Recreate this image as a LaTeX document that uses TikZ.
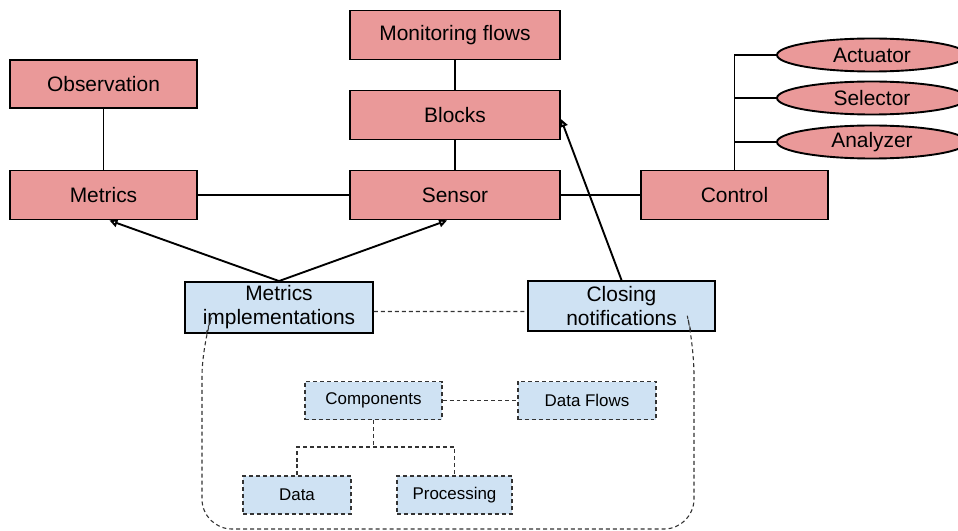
\documentclass[tikz,border=0pt]{standalone}
\usepackage{fontspec}
\setmainfont{Liberation Sans}
\usetikzlibrary{arrows.meta,shapes.geometric}
\definecolor{boxred}{HTML}{EA9999}
\definecolor{boxblue}{HTML}{CFE2F3}
\definecolor{dashgray}{HTML}{333333}

\tikzset{
  bigbox/.style={draw, line width=1.9pt, inner sep=0pt, minimum width=187bp,
    minimum height=49bp, align=center, font=\fontsize{21}{24}\selectfont},
  redbox/.style={bigbox, fill=boxred},
  bluebox/.style={bigbox, fill=boxblue},
  oval/.style={ellipse, draw, line width=1.9pt, fill=boxred, inner sep=0pt,
    minimum width=190bp, minimum height=33bp, font=\fontsize{21}{24}\selectfont},
  subbox/.style={draw=dashgray, fill=boxblue, line width=1.1pt, dash pattern=on 4pt off 3pt,
    inner sep=0pt, minimum height=38bp, font=\fontsize{17}{20}\selectfont},
  link/.style={line width=1.9pt},
  sublink/.style={draw=dashgray, line width=1.1pt, dash pattern=on 4pt off 3pt},
  uses/.style={link, -{Triangle[open,length=8bp,width=8bp]}}
}

\begin{document}
\begin{tikzpicture}[x=1bp,y=-1bp]
      \clip (0,0) rectangle (958,531);

      \node[redbox, minimum width=210bp] (monitoring) at (455,35) {Monitoring flows};
      \node[redbox, minimum width=210bp] (blocks) at (455,115) {Blocks};
      \node[redbox, minimum width=210bp] (sensor) at (455,195) {Sensor};
      \node[redbox, minimum height=48bp] (observation) at (103.5,84) {Observation};
      \node[redbox] (metrics) at (103.5,195) {Metrics};
      \node[redbox] (control) at (734.5,195) {Control};

      \node[oval] (actuator) at (872,55) {Actuator};
      \node[oval] (selector) at (872,98) {Selector};
      \node[oval] (analyzer) at (872,142) {Analyzer};

      \node[bluebox, minimum width=188bp, minimum height=51bp] (metricsimpl) at (279,307.5) {Metrics\\implementations};
      \node[bluebox, minimum height=50bp] (closing) at (621.5,306) {Closing\\notifications};

      \node[subbox, minimum width=137bp] (components) at (373.5,400.5) {Components};
      \node[subbox, minimum width=138bp] (dataflows) at (587,400.5) {Data Flows};
      \node[subbox, minimum width=108bp] (data) at (297,495) {Data};
      \node[subbox, minimum width=115bp] (processing) at (454.5,495) {Processing};

      \draw[link] (observation) -- (metrics);
      \draw[link] (metrics) -- (sensor);
      \draw[link] (sensor) -- (control);
      \draw[link] (monitoring) -- (blocks);
      \draw[link] (blocks) -- (sensor);

      \draw[link] (control.north) |- (actuator.west);
      \draw[link] (control.north |- selector.west) -- (selector.west);
      \draw[link] (control.north |- analyzer.west) -- (analyzer.west);

      \draw[uses] (metricsimpl.north) -- ([xshift=6pt]metrics.south);
      \draw[uses] (metricsimpl.north) -- ([xshift=-8pt]sensor.south);
      \draw[uses] (closing.north) -- ([yshift=-4pt]blocks.east);

      \draw[sublink] ([yshift=-4pt]metricsimpl.east) -- ([yshift=-5.5pt]closing.west);

      \coordinate (split) at (373.5,447);
      \draw[sublink] (components) -- (dataflows);
      \draw[sublink] (components.south) -- (split);
      \draw[sublink] (data.north) |- (split) -| (processing.north);

      \coordinate (framestart) at (206,334);
      \coordinate (frameend) at (691,332);
      \draw[sublink, rounded corners=30bp] (framestart) -- (202,346) -- (202,529)
        -- (694,529) -- (694,345) -- (frameend);
\end{tikzpicture}
\end{document}
